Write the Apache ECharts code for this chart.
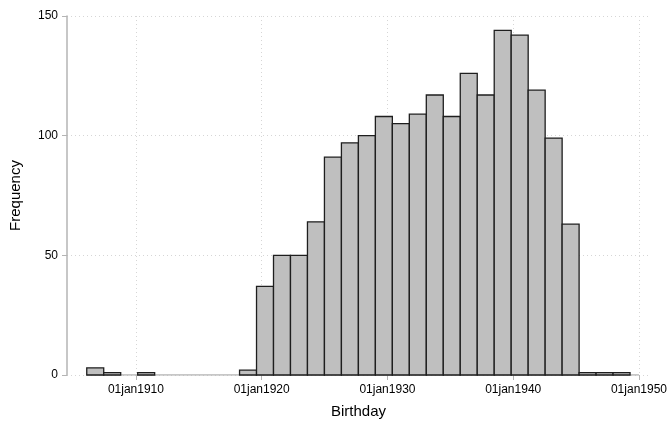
<!DOCTYPE html>
<html><head><meta charset="utf-8">
<script src="https://cdn.jsdelivr.net/npm/echarts@6/dist/echarts.min.js"></script>
<style>html,body{margin:0;padding:0;background:#fff}#c{width:670px;height:424px}</style>
</head><body><div id="c"></div>
<script>
// Histogram of birthdays (year units; 01jan1910 == 1910.0)
const binStart = 1906.09;
const binWidth = 1.35;
const counts = [3,1,0,1,0,0,0,0,0,2,37,50,50,64,91,97,100,108,105,109,117,108,126,117,144,142,119,99,63,1,1,1];
const xTickYears = [1910,1920,1930,1940,1950];
const yTicks = [0,50,100,150];
const xMin = 1904.52, xMax = 1950.87;

const bins = counts.map((c,i)=>[binStart+i*binWidth, binStart+(i+1)*binWidth, c]);
const axisGray = '#b4b4b4';
const font = 'Helvetica, Arial, "Liberation Sans", sans-serif';

const chart = echarts.init(document.getElementById('c'), null, {renderer:'canvas'});
chart.setOption({
  animation:false,
  backgroundColor:'#fff',
  grid:{left:67, right:19, top:16, bottom:49, containLabel:false},
  xAxis:{
    type:'value', min:xMin, max:xMax,
    name:'Birthday', nameLocation:'middle', nameGap:29,
    nameTextStyle:{fontSize:15, color:'#000', fontFamily:font, padding:[0,0,0,0]},
    axisLine:{show:false},
    axisTick:{show:true, customValues:xTickYears, length:5, lineStyle:{color:axisGray, width:1}},
    axisLabel:{customValues:xTickYears, fontSize:12, color:'#000', fontFamily:font, margin:9,
      formatter:v=>'01jan'+Math.round(v)},
    splitLine:{show:true, lineStyle:{color:'#d6d6d6', type:[1,3], width:1}}
  },
  yAxis:{
    type:'value', min:0, max:150, interval:50,
    name:'Frequency', nameLocation:'middle', nameGap:44, nameRotate:90,
    nameTextStyle:{fontSize:15, color:'#000', fontFamily:font},
    axisLine:{show:true, lineStyle:{color:axisGray, width:1.5}},
    axisTick:{show:true, length:5, lineStyle:{color:axisGray, width:1}},
    axisLabel:{fontSize:12, color:'#000', fontFamily:font, margin:9},
    splitLine:{show:true, lineStyle:{color:'#d6d6d6', type:[1,3], width:1}}
  },
  series:[
    {
      type:'custom', name:'hist', data:bins, encode:{x:[0,1], y:2}, z:3,
      renderItem:function(params, api){
        const c = api.value(2);
        if(!c) return null;
        const p0 = api.coord([api.value(0), c]);
        const p1 = api.coord([api.value(1), 0]);
        return {type:'rect',
          shape:{x:p0[0], y:p0[1], width:p1[0]-p0[0], height:p1[1]-p0[1]},
          style:{fill:'#bfbfbf', stroke:'#1e1e1e', lineWidth:1.3}};
      }
    },
    {
      type:'line', name:'axis', silent:true, symbol:'none', z:2,
      data:[[binStart,0],[xTickYears[xTickYears.length-1],0]],
      lineStyle:{color:axisGray, width:1.5}
    }
  ]
});
</script></body></html>
